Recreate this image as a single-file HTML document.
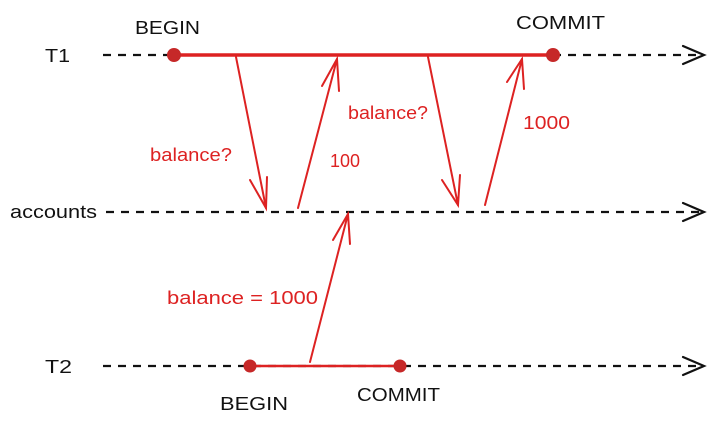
<!DOCTYPE html>
<html><head><style>
body{margin:0;background:#fff;}
svg{display:block}
text{font-family:"Liberation Sans",sans-serif;}
</style></head><body>
<svg width="718" height="426" viewBox="0 0 718 426">
<g stroke="#111" stroke-width="2.2" stroke-dasharray="8,7" fill="none">
<line x1="103" y1="55" x2="700" y2="55"/>
<line x1="106" y1="212" x2="700" y2="212"/>
<line x1="103" y1="366" x2="700" y2="366"/>
</g>
<g stroke="#111" stroke-width="2.2" fill="none" stroke-linecap="round">
<polyline points="683,46 704,55 683,64"/>
<polyline points="683,203 704,212 683,221"/>
<polyline points="683,357 704,366 683,375"/>
</g>
<g stroke="#d22" stroke-width="2" fill="none" stroke-linecap="round">
<line x1="174" y1="55" x2="553" y2="55" stroke-width="3.5"/>
<line x1="250" y1="366" x2="400" y2="366" stroke-width="2.5"/>
<line x1="236" y1="57" x2="266" y2="208"/><polyline points="250,180 266,208 267,177"/>
<line x1="298" y1="208" x2="337" y2="59"/><polyline points="322,86 337,59 339,91"/>
<line x1="428" y1="57" x2="458" y2="205"/><polyline points="442,180 458,205 460,175"/>
<line x1="485" y1="205" x2="522" y2="59"/><polyline points="507,82 522,59 524,89"/>
<line x1="310" y1="362" x2="348" y2="214"/><polyline points="333,240 348,214 350,244"/>
</g>
<g fill="#c62828">
<circle cx="174" cy="55" r="7"/><circle cx="553" cy="55" r="7"/>
<circle cx="250" cy="366" r="6.5"/><circle cx="400" cy="366" r="6.5"/>
</g>
<g fill="#111" font-size="18">
<text x="135" y="34" textLength="65" lengthAdjust="spacingAndGlyphs">BEGIN</text>
<text x="516" y="29" textLength="89" lengthAdjust="spacingAndGlyphs">COMMIT</text>
<text x="45" y="62" textLength="25" lengthAdjust="spacingAndGlyphs">T1</text>
<text x="10" y="218" textLength="87" lengthAdjust="spacingAndGlyphs">accounts</text>
<text x="45" y="373" textLength="27" lengthAdjust="spacingAndGlyphs">T2</text>
<text x="220" y="410" textLength="68" lengthAdjust="spacingAndGlyphs">BEGIN</text>
<text x="357" y="401" textLength="83" lengthAdjust="spacingAndGlyphs">COMMIT</text>
</g>
<g fill="#d22" font-size="18">
<text x="150" y="161" textLength="82" lengthAdjust="spacingAndGlyphs">balance?</text>
<text x="330" y="167" textLength="30" lengthAdjust="spacingAndGlyphs">100</text>
<text x="348" y="119" textLength="80" lengthAdjust="spacingAndGlyphs">balance?</text>
<text x="523" y="129" textLength="47" lengthAdjust="spacingAndGlyphs">1000</text>
<text x="167" y="304" textLength="151" lengthAdjust="spacingAndGlyphs">balance = 1000</text>
</g>
</svg>
</body></html>
